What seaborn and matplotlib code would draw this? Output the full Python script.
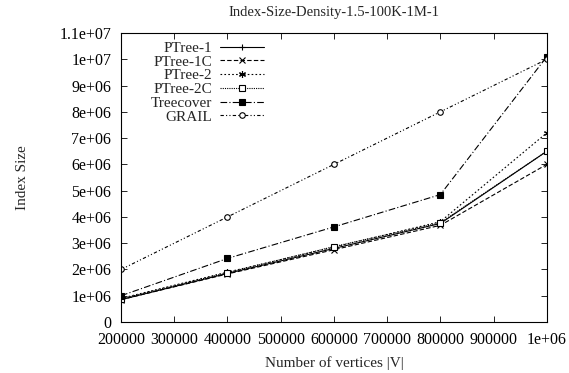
import matplotlib
matplotlib.use("Agg")
import matplotlib.pyplot as plt
import seaborn as sns
import pandas as pd

vertices = [200000, 400000, 600000, 800000, 1000000]
ptree1 = [850000, 1850000, 2800000, 3750000, 6500000]
ptree1c = [850000, 1830000, 2750000, 3680000, 6000000]
ptree2 = [900000, 1900000, 2850000, 3820000, 7200000]
ptree2c = [880000, 1880000, 2870000, 3780000, 6500000]
treecover = [1000000, 2420000, 3620000, 4850000, 10100000]
grail = [2000000, 4000000, 6000000, 8000000, 10000000]

series_names = ["PTree-1", "PTree-1C", "PTree-2", "PTree-2C", "Treecover", "GRAIL"]
series_vals = [ptree1, ptree1c, ptree2, ptree2c, treecover, grail]

sns.set_theme(style="ticks")
plt.rcParams["font.family"] = ["Liberation Serif", "DejaVu Serif"]

fig = plt.figure(figsize=(5.69, 3.73), dpi=100)
ax = fig.add_axes([0.2127, 0.1367, 0.7483, 0.7748])

styles = {
    "PTree-1": dict(marker="+", ls="-", mfc="black", ms=5),
    "PTree-1C": dict(marker="x", ls=(0, (4, 2)), mfc="black", ms=4),
    "PTree-2": dict(marker=(6, 2, 0), ls=(0, (1.5, 2)), mfc="black", ms=5),
    "PTree-2C": dict(marker="s", ls=(0, (1, 1)), mfc="white", ms=4),
    "Treecover": dict(marker="s", ls=(0, (6, 2, 1, 2)), mfc="black", ms=4.5),
    "GRAIL": dict(marker="o", ls=(0, (3, 2, 1, 2, 1, 2)), mfc="white", ms=4),
}

for name, vals in zip(series_names, series_vals):
    d = pd.DataFrame({"V": vertices, "size": vals})
    st = styles[name]
    sns.lineplot(data=d, x="V", y="size", ax=ax, color="black", linewidth=0.8,
                 linestyle=st["ls"], marker=st["marker"], markersize=st["ms"],
                 markerfacecolor=st["mfc"], markeredgecolor="black",
                 markeredgewidth=0.8, label=name)

ax.set_xlim(200000, 1000000)
ax.set_ylim(0, 11000000)
ax.set_xticks([200000, 300000, 400000, 500000, 600000, 700000, 800000, 900000, 1000000])
ax.set_xticklabels(["200000", "300000", "400000", "500000", "600000", "700000", "800000", "900000", "1e+06"])
yt = [0, 1e6, 2e6, 3e6, 4e6, 5e6, 6e6, 7e6, 8e6, 9e6, 1e7, 1.1e7]
ax.set_yticks(yt)
ax.set_yticklabels(["0", "1e+06", "2e+06", "3e+06", "4e+06", "5e+06", "6e+06", "7e+06", "8e+06", "9e+06", "1e+07", "1.1e+07"])
ax.tick_params(direction="in", length=4, width=0.6, labelsize=11.5, top=True, right=True, colors="black")
ax.tick_params(axis="x", pad=7)
ax.tick_params(axis="y", pad=7)
for s in ax.spines.values():
    s.set_linewidth(0.8)
    s.set_color("black")

ax.set_xlabel("Number of vertices |V|", fontsize=11, labelpad=6)
ax.set_ylabel("Index Size", fontsize=11, labelpad=22)
ax.set_title("Index-Size-Density-1.5-100K-1M-1", fontsize=10.5, pad=12)

ax.legend(loc="upper left", bbox_to_anchor=(0.05, 1.0), frameon=False,
          markerfirst=False, fontsize=11, handlelength=2.9, labelspacing=0.0,
          handletextpad=0.5, borderaxespad=0.15)

fig.savefig("out.png", dpi=100)
